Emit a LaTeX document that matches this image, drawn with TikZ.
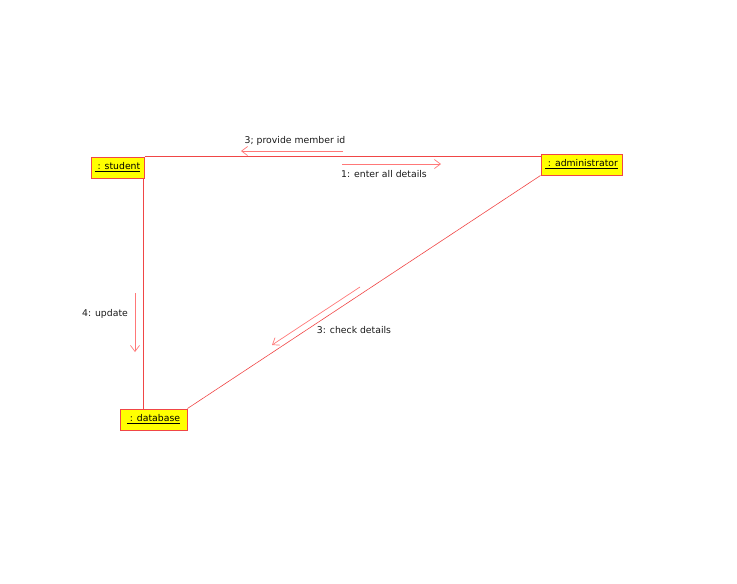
\documentclass[tikz,border=0pt]{standalone}
\usepackage{fontspec}
\setmainfont{DejaVu Sans}
\usetikzlibrary{arrows.meta}

\definecolor{linkred}{RGB}{240,70,70}
\definecolor{msgred}{RGB}{255,120,120}
\definecolor{boxyellow}{RGB}{255,255,0}

\tikzset{
  objbox/.style={draw=linkred, line width=1pt, fill=boxyellow, minimum height=21pt,
    inner xsep=1pt, inner ysep=0pt, font=\fontsize{9.3}{11}\selectfont},
  link/.style={draw=linkred, line width=0.6pt},
  msg/.style={draw=msgred, line width=0.7pt, -{Straight Barb[length=6pt,width=9pt]}},
  msglabel/.style={font=\fontsize{9.3}{11}\selectfont, text=black!90}
}

\begin{document}
\begin{tikzpicture}[x=1pt,y=-1pt]
\useasboundingbox (0,0) rectangle (737,584);

% objects
\node[objbox, minimum width=53pt] (student) at (117.5,167.5) {\underline{\ : student}};
\node[objbox, minimum width=81pt] (admin) at (581.5,164.5) {\underline{\ : administrator}};
\node[objbox, minimum width=67pt] (database) at (153.5,419.5) {\underline{\ : database}};

% links
\draw[link] (student.north east) -- (student.north east -| admin.west);
\draw[link] ([xshift=-1pt]student.south east) -- ([xshift=-1pt]student.south east |- database.north);
\draw[link] (admin.south west) -- (database.north east);

% messages
\coordinate (m1a) at (343,151); \coordinate (m1b) at (241,151);
\draw[msg] (m1a) -- (m1b);
\node[msglabel] (lbl1) at (295,141) {3; provide member id};

\coordinate (m2a) at (342,164); \coordinate (m2b) at (441,164);
\draw[msg] (m2a) -- (m2b);
\node[msglabel] (lbl2) at (384,174) {1: enter all details};

\coordinate (m3a) at (135,293); \coordinate (m3b) at (135,352);
\draw[msg] (m3a) -- (m3b);
\node[msglabel] (lbl3) at (105,314) {4: update};

\coordinate (m4a) at (360,287); \coordinate (m4b) at (272,345);
\draw[msg] (m4a) -- (m4b);
\node[msglabel] (lbl4) at (354,330) {3: check details};
\end{tikzpicture}
\end{document}
